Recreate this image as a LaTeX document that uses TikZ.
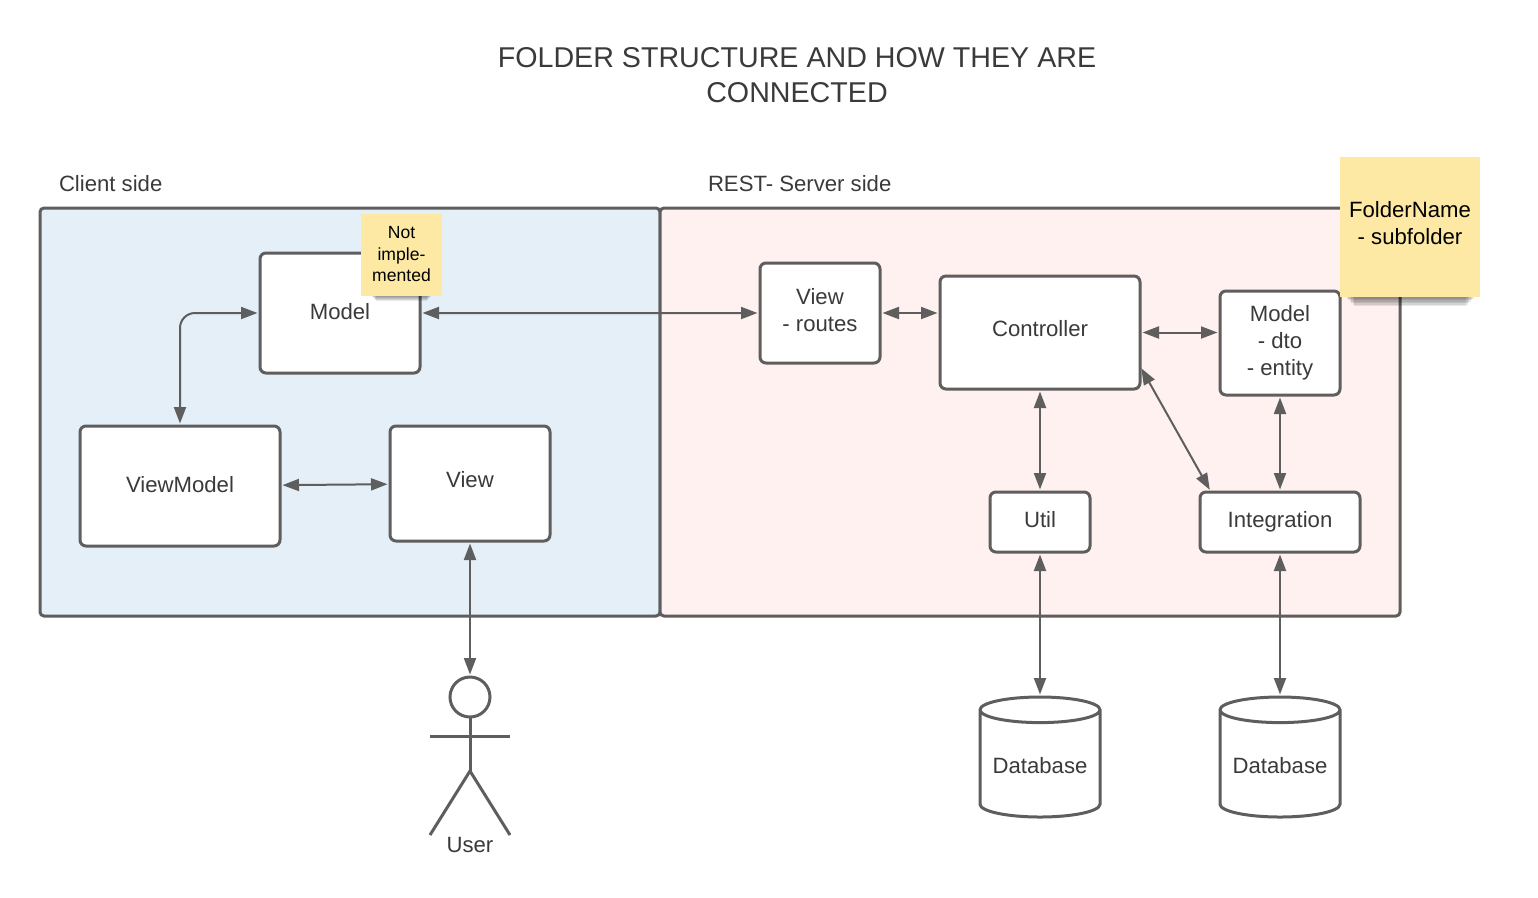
\documentclass[tikz,border=0pt]{standalone}
\usepackage{fontspec}
\setmainfont{Liberation Sans}
\usetikzlibrary{arrows.meta,positioning,calc,shapes.geometric}
\definecolor{LineGray}{RGB}{94,94,94}
\definecolor{TextGray}{RGB}{58,58,58}
\definecolor{ClientBlue}{RGB}{228,239,248}
\definecolor{ServerRed}{RGB}{255,241,239}
\definecolor{NoteYellow}{RGB}{253,232,164}
\tikzset{
  every node/.style={outer sep=0pt, inner sep=0pt, align=center, text=TextGray,
                     font=\fontsize{12.6}{15.3}\selectfont},
  panel/.style={draw=LineGray, line width=0.06cm, rounded corners=0.08cm},
  box/.style={draw=LineGray, fill=white, line width=0.06cm, rounded corners=0.12cm},
  note/.style={fill=NoteYellow},
  database/.style={draw=LineGray, fill=white, line width=0.06cm, cylinder,
                   shape border rotate=90, aspect=0.27, text height=0.38cm,
                   minimum width=2.4cm, minimum height=2.4cm},
  link/.style={{Triangle[length=3.3mm,width=2.4mm]}-{Triangle[length=3.3mm,width=2.4mm]},
               draw=LineGray, line width=0.04cm, shorten <=0.05cm, shorten >=0.05cm},
  figure/.style={draw=LineGray, line width=0.06cm}
}
\begin{document}
\begin{tikzpicture}
\useasboundingbox (0,0) rectangle (30.76,-17.94);
\node[font=\fontsize{16.3}{19.8}\selectfont] (title) at (15.94,-1.5)
      {FOLDER STRUCTURE AND HOW THEY ARE\\CONNECTED};
\node[panel, fill=ClientBlue, anchor=north west,
      minimum width=12.4cm, minimum height=8.16cm] (client) at (0.8,-4.16) {};
\node[panel, fill=ServerRed, right=0cm of client,
      minimum width=14.8cm, minimum height=8.16cm] (server) {};
\node[above right=0.32cm and 0.38cm of client.north west] (clientlabel) {Client side};
\node[above right=0.32cm and 0.96cm of server.north west] (serverlabel) {REST- Server side};
\node[box, below right=0.9cm and 4.4cm of client.north west, text depth=0.08cm,
      minimum width=3.2cm, minimum height=2.4cm] (model) {Model};
\node[box, below right=4.36cm and 0.8cm of client.north west, text depth=0.08cm,
      minimum width=4cm, minimum height=2.4cm] (viewmodel) {ViewModel};
\node[box, below right=0cm and 2.2cm of viewmodel.north east, text depth=0.16cm,
      minimum width=3.2cm, minimum height=2.3cm] (view) {View};
\node[box, below right=1.1cm and 2cm of server.north west, text depth=0.12cm,
      minimum width=2.4cm, minimum height=2cm] (routes) {View\\- routes};
\node[box, below right=0.26cm and 1.2cm of routes.north east, text depth=0.16cm,
      minimum width=4cm, minimum height=2.26cm] (controller) {Controller};
\node[box, below right=0.3cm and 1.6cm of controller.north east,
      minimum width=2.4cm, minimum height=2.08cm] (dto) {Model\\- dto\\- entity};
\node[box, below=2.06cm of controller, text depth=0.12cm,
      minimum width=2cm, minimum height=1.2cm] (util) {Util};
\node[box, below=1.94cm of dto, text depth=0.12cm,
      minimum width=3.2cm, minimum height=1.2cm] (integration) {Integration};
\node[database, below=2.9cm of util] (dbutil) {Database};
\node[database, below=2.9cm of integration] (dbintegration) {Database};
\node[draw=LineGray, line width=0.06cm, circle, minimum size=0.8cm,
      below=2.72cm of view] (head) {};
\draw[figure] (head.south) -- ++(0,-1.08) coordinate (hip);
\draw[figure] ($(head.south)+(-0.8,-0.38)$) -- ($(head.south)+(0.8,-0.38)$);
\draw[figure] ($(hip)+(-0.8,-1.28)$) -- (hip) -- ($(hip)+(0.8,-1.28)$);
\node[below=2.4cm of head] (user) {User};
\draw[link, rounded corners=0.3cm] (viewmodel.north) |- (model.west);
\draw[link] (viewmodel) -- (view);
\draw[link] (model.east) -- (routes.west);
\draw[link] (routes.east) -- (routes.east -| controller.west);
\draw[link] (controller.east) -- (controller.east -| dto.west);
\draw[link] ($(controller.south east)+(0,0.46)$) -- ($(integration.north west)+(0.22,0)$);
\draw[link] (controller) -- (util);
\draw[link] (dto) -- (integration);
\draw[link] (util) -- (dbutil);
\draw[link] (integration) -- (dbintegration);
\draw[link] (view) -- (head);
\node[note, below right=0.12cm and 6.42cm of client.north west, text depth=0.04cm,
      minimum width=1.62cm, minimum height=1.64cm,
      font=\fontsize{10}{12.1}\selectfont, text=black] (notimpl) {Not\\imple-\\mented};
\foreach \depth in {0.02,0.04,0.06,0.08,0.1}
  \fill[black, opacity=0.09]
       ($(notimpl.south west)+(0.2+\depth,0)$) rectangle ($(notimpl.south east)+(-0.2-\depth,-\depth)$);
\node[note, below right=-1.02cm and -1.2cm of server.north east, text depth=0.16cm,
      minimum width=2.8cm, minimum height=2.8cm, text=black] (legend) {FolderName\\- subfolder};
\foreach \depth in {0.03,0.06,0.09,0.12,0.15,0.18}
  \fill[black, opacity=0.09]
       ($(legend.south west)+(0.1+\depth,0)$) rectangle ($(legend.south east)+(-0.1-\depth,-\depth)$);
\end{tikzpicture}
\end{document}
